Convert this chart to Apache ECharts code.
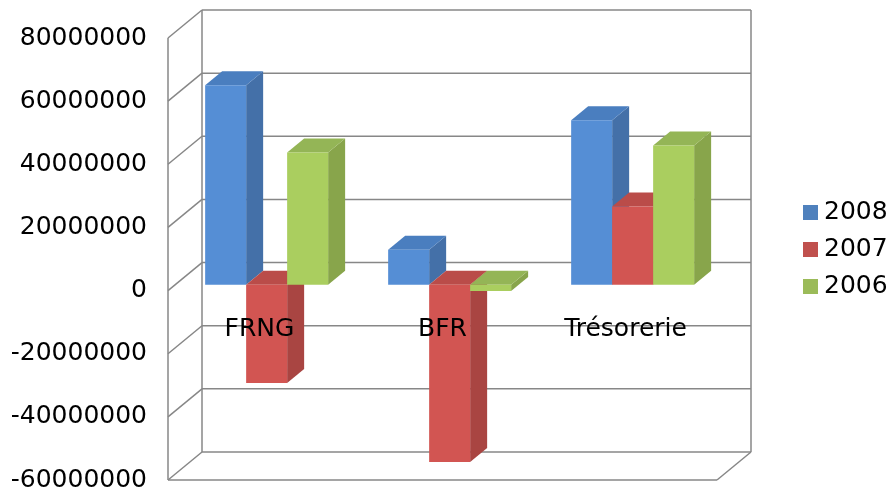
<!DOCTYPE html>
<html>
<head>
<meta charset="utf-8">
<script src="https://cdn.jsdelivr.net/npm/echarts@6/dist/echarts.min.js"></script>
<style>
  html, body { margin: 0; padding: 0; background: #fff; }
  #chart { width: 893px; height: 490px; }
</style>
</head>
<body>
<div id="chart"></div>
<script>
const categories = ['FRNG', 'BFR', 'Trésorerie'];
const years = ['2008', '2007', '2006'];
const values2008 = [63200000, 11100000, 52100000];
const values2007 = [-31100000, -56200000, 24800000];
const values2006 = [41900000, -2000000, 44100000];
const yTicks = [-60000000, -40000000, -20000000, 0, 20000000, 40000000, 60000000, 80000000];

const seriesValues = [values2008, values2007, values2006];
const frontColors = ['#558ED5', '#D25552', '#AACE5F'];
const topColors = ['#4A7EBF', '#BA4C49', '#94B556'];
const sideColors = ['#4470A8', '#A94542', '#88A54B'];
const legendColors = ['#4F81BD', '#C0504D', '#9BBB59'];

const Y_MIN = yTicks[0];
const Y_MAX = yTicks[yTicks.length - 1];
const GRID_H = 442;

// perspective shift from the front plane to the back wall
const DEPTH_X = 34;
const DEPTH_Y = -28;
const BAR_FRONT = 0.21;
const BAR_BACK = 0.71;
const FONT = 'DejaVu Sans';
const LINE = '#878787';

function wallRenderer(params, api) {
  const cs = params.coordSys;
  const L = cs.x, R = cs.x + cs.width;
  const yTop = cs.y, yBot = cs.y + cs.height;
  const style = { stroke: LINE, lineWidth: 1.5, fill: null };
  const children = [];
  const line = (x1, y1, x2, y2) => children.push({
    type: 'line', shape: { x1, y1, x2, y2 }, style
  });
  yTicks.forEach((t) => {
    const y = api.coord([0, t])[1];
    line(L + DEPTH_X, y + DEPTH_Y, R + DEPTH_X, y + DEPTH_Y);
    line(L, y, L + DEPTH_X, y + DEPTH_Y);
  });
  line(L, yTop, L, yBot);
  line(L + DEPTH_X, yTop + DEPTH_Y, L + DEPTH_X, yBot + DEPTH_Y);
  line(R + DEPTH_X, yTop + DEPTH_Y, R + DEPTH_X, yBot + DEPTH_Y);
  line(L, yBot, R, yBot);
  line(R, yBot, R + DEPTH_X, yBot + DEPTH_Y);
  return { type: 'group', children };
}

function barRenderer(s) {
  return function (params, api) {
    const ci = api.value(0);
    const v = api.value(1);
    const band = api.size([1, 0])[0];
    const w = band * 0.224;
    const c = api.coord([ci, v]);
    const z = api.coord([ci, 0]);
    const fx = DEPTH_X * BAR_FRONT, fy = DEPTH_Y * BAR_FRONT;
    const ddx = DEPTH_X * (BAR_BACK - BAR_FRONT);
    const ddy = DEPTH_Y * (BAR_BACK - BAR_FRONT);
    const x0 = z[0] - 1.5 * w + s * w + fx;
    const x1 = x0 + w;
    const top = Math.min(c[1], z[1]) + fy;
    const bot = Math.max(c[1], z[1]) + fy;
    return {
      type: 'group',
      children: [
        { type: 'polygon', shape: { points: [[x1, top], [x1 + ddx, top + ddy], [x1 + ddx, bot + ddy], [x1, bot]] },
          style: { fill: sideColors[s] } },
        { type: 'polygon', shape: { points: [[x0, top], [x0 + ddx, top + ddy], [x1 + ddx, top + ddy], [x1, top]] },
          style: { fill: topColors[s] } },
        { type: 'rect', shape: { x: x0, y: top, width: w, height: bot - top },
          style: { fill: frontColors[s] } }
      ]
    };
  };
}

const chart = echarts.init(document.getElementById('chart'));

const series = [{
  name: 'walls',
  type: 'custom',
  renderItem: wallRenderer,
  data: [[0, 0]],
  silent: true,
  z: 1
}];
years.forEach((y, s) => {
  series.push({
    name: y,
    type: 'custom',
    renderItem: barRenderer(s),
    itemStyle: { color: legendColors[s] },
    data: seriesValues[s].map((v, i) => [i, v]),
    z: 2 + s
  });
});

// category labels sit on the zero line of the front plane
const zeroFromBottom = GRID_H * (0 - Y_MIN) / (Y_MAX - Y_MIN);

chart.setOption({
  animation: false,
  grid: { left: 168, top: 38, width: 549, height: GRID_H, outerBoundsMode: 'none' },
  legend: {
    orient: 'vertical',
    left: 798,
    top: 195,
    itemWidth: 15,
    itemHeight: 15,
    itemGap: 12,
    textStyle: { fontSize: 25, fontFamily: FONT, color: '#000', padding: [0, 0, 0, 1] },
    data: years.map((y, s) => ({ name: y, icon: 'rect', itemStyle: { color: legendColors[s] } }))
  },
  xAxis: {
    type: 'category',
    data: categories,
    position: 'bottom',
    offset: -zeroFromBottom,
    axisLine: { show: false, onZero: false },
    axisTick: { show: false },
    axisLabel: { show: true, fontSize: 25, fontFamily: FONT, color: '#000', margin: 26 },
    splitLine: { show: false },
    z: 10
  },
  yAxis: {
    type: 'value',
    min: Y_MIN,
    max: Y_MAX,
    interval: 20000000,
    axisLine: { show: false },
    axisTick: { show: false },
    splitLine: { show: false },
    axisLabel: {
      fontSize: 25, fontFamily: FONT, color: '#000', margin: 21,
      padding: [4, 0, 0, 0],
      formatter: (v) => String(v)
    }
  },
  series
});
</script>
</body>
</html>
